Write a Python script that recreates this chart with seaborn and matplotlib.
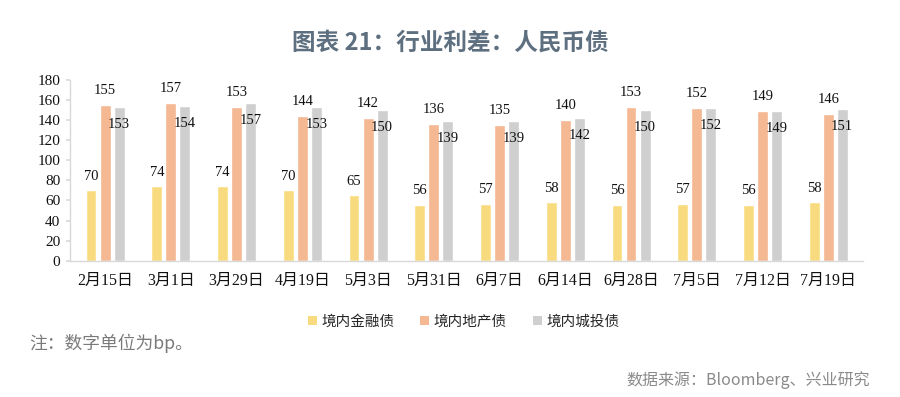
import matplotlib
matplotlib.use("Agg")
import matplotlib.pyplot as plt
import seaborn as sns
import pandas as pd
from matplotlib.patches import Patch

categories = ["2月15日", "3月1日", "3月29日", "4月19日", "5月3日", "5月31日",
              "6月7日", "6月14日", "6月28日", "7月5日", "7月12日", "7月19日"]
series_names = ["境内金融债", "境内地产债", "境内城投债"]
financial = [70, 74, 74, 70, 65, 56, 57, 58, 56, 57, 56, 58]
property_ = [155, 157, 153, 144, 142, 136, 135, 140, 153, 152, 149, 146]
lgfv = [153, 154, 157, 153, 150, 139, 139, 142, 150, 152, 149, 151]
yticks = [0, 20, 40, 60, 80, 100, 120, 140, 160, 180]
colors = ["#F9DB7F", "#F4B892", "#CFCFCF"]

sns.set_theme(style="white")
plt.rcParams['font.family'] = ['Liberation Serif', 'Noto Sans CJK SC', 'DejaVu Sans']

rows = []
for s, vals in zip(series_names, [financial, property_, lgfv]):
    for c, v in zip(categories, vals):
        rows.append({"date": c, "series": s, "value": v})
df = pd.DataFrame(rows)

fig = plt.figure(figsize=(9, 3.97), dpi=100)
ax = fig.add_axes([0.078, 0.343, 0.881, 0.456])
sns.barplot(data=df, x="date", y="value", hue="series", hue_order=series_names,
            order=categories, palette=colors, width=0.64, gap=0.22,
            saturation=1, ax=ax, legend=False)

ax.set_xlim(-0.53, len(categories) - 0.47)
ax.set_ylim(0, 180)
ax.set_yticks(yticks)
ax.set_xlabel("")
ax.set_ylabel("")
for s in ["top", "right"]:
    ax.spines[s].set_visible(False)
for s in ["left", "bottom"]:
    ax.spines[s].set_color("#D9D9D9")
    ax.spines[s].set_linewidth(1.0)
ax.tick_params(axis="y", length=3, color="#D9D9D9", labelsize=11, pad=4,
               left=True, labelcolor="#111111")
ax.tick_params(axis="x", length=0, labelsize=11.5, pad=9, labelcolor="#111111")

offsets = [14, 14, -17]
for cont, off in zip(ax.containers, offsets):
    for bar in cont:
        h = bar.get_height()
        ax.text(bar.get_x() + bar.get_width() / 2, h + off, f"{int(round(h))}",
                ha="center", va="center", fontsize=10.5, color="#111111",
                family="Liberation Serif")

handles = [Patch(facecolor=c, edgecolor="none") for c in colors]
fig.legend(handles, series_names, loc="center", bbox_to_anchor=(0.515, 0.19),
           ncol=3, frameon=False, handlelength=0.6, handleheight=0.6,
           handletextpad=0.3, columnspacing=1.8,
           prop={"family": ["Noto Sans CJK SC"], "size": 10.5})

fig.text(0.5, 0.893, "图表 21：行业利差：人民币债", ha="center", va="center",
         fontsize=17, fontweight="bold", color="#5E6F80", family=["Noto Sans CJK SC"])
fig.text(0.033, 0.135, "注：数字单位为bp。", ha="left", va="center",
         fontsize=12.8, color="#7A7A7A", family=["Noto Sans CJK SC"])
fig.text(0.967, 0.042, "数据来源：Bloomberg、兴业研究", ha="right", va="center",
         fontsize=11.5, color="#8A8A8A", family=["Noto Sans CJK SC"])

fig.savefig("out.png", dpi=100, facecolor="white")
